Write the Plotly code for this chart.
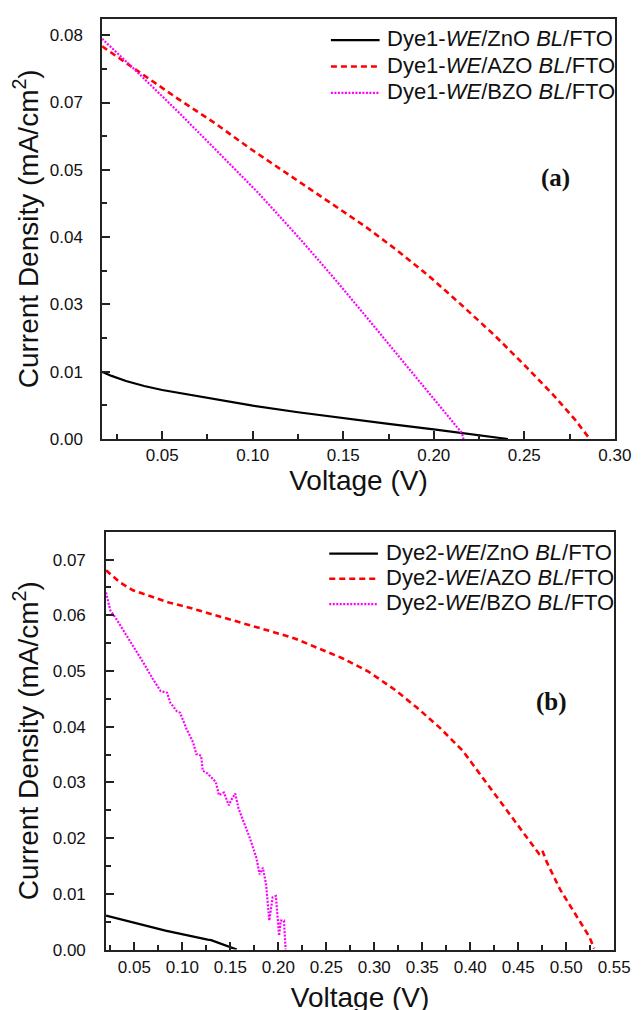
import plotly.graph_objects as go

# ---------------- Data: panel (a) Dye1 ----------------
v_a_zno = [0.0168, 0.022, 0.030, 0.040, 0.050, 0.075, 0.100, 0.125, 0.150, 0.175, 0.200, 0.225, 0.241]
j_a_zno = [0.0133, 0.0125, 0.0115, 0.0105, 0.0097, 0.0081, 0.0066, 0.0053, 0.0041, 0.0030, 0.0019, 0.0007, 0.0]

v_a_azo = [0.0168, 0.0374, 0.0579, 0.0794, 0.0991, 0.1206, 0.1421, 0.1618, 0.1797, 0.1976,
           0.2155, 0.2334, 0.2513, 0.2656, 0.2781, 0.2862]
j_a_azo = [0.0778, 0.0726, 0.0676, 0.0625, 0.0574, 0.0522, 0.0469, 0.0422, 0.0374, 0.0322,
           0.0265, 0.0206, 0.0142, 0.0089, 0.0038, 0.0]

v_a_bzo = [0.0168, 0.0374, 0.0600, 0.0848, 0.1027, 0.1255, 0.1439, 0.1618, 0.1797, 0.1976,
           0.2155, 0.2164]
j_a_bzo = [0.0793, 0.0723, 0.0644, 0.0555, 0.0489, 0.0399, 0.0323, 0.0246, 0.0168, 0.0091,
           0.0012, 0.0]

# ---------------- Data: panel (b) Dye2 ----------------
v_b_zno = [0.0205, 0.0485, 0.0824, 0.1264, 0.1300, 0.1568]
j_b_zno = [0.0061, 0.0049, 0.0034, 0.0018, 0.0017, 0.0]

v_b_azo = [0.0205, 0.035, 0.0485, 0.0655, 0.0858, 0.1027, 0.1230, 0.1433, 0.1602, 0.1805,
           0.2008, 0.2178, 0.2431, 0.2668, 0.2939, 0.3210, 0.3447, 0.3684, 0.3921, 0.4124,
           0.4327, 0.4530, 0.4716, 0.4750, 0.4800, 0.4936, 0.5105, 0.5241, 0.5291]
j_b_azo = [0.0681, 0.0659, 0.0645, 0.0635, 0.0623, 0.0616, 0.0606, 0.0596, 0.0588, 0.0578,
           0.0567, 0.0558, 0.0540, 0.0523, 0.0499, 0.0467, 0.0434, 0.0398, 0.0357, 0.0310,
           0.0262, 0.0215, 0.0172, 0.0178, 0.0156, 0.0108, 0.0061, 0.0023, 0.0002]

v_b_bzo = [0.0205, 0.0249, 0.0299, 0.0384, 0.0485, 0.0587, 0.0688, 0.0774, 0.0841, 0.0875,
           0.0942, 0.0977, 0.1044, 0.1112, 0.1145, 0.1196, 0.1213, 0.1264, 0.1348, 0.1382,
           0.1433, 0.1484, 0.1518, 0.1551, 0.1586, 0.1636, 0.1704, 0.1771, 0.1805, 0.1839,
           0.1873, 0.1906, 0.1941, 0.1975, 0.2008, 0.2025, 0.2059, 0.2076]
j_b_bzo = [0.0641, 0.0609, 0.0597, 0.0573, 0.0547, 0.0517, 0.0487, 0.0464, 0.0461, 0.0443,
           0.0428, 0.0425, 0.0396, 0.0372, 0.0351, 0.0348, 0.0321, 0.0316, 0.0301, 0.0277,
           0.0282, 0.0259, 0.0271, 0.0280, 0.0253, 0.0230, 0.0200, 0.0165, 0.0135, 0.0147,
           0.0117, 0.0052, 0.0094, 0.0096, 0.0025, 0.0052, 0.0052, 0.0]

# ---------------- Labels / ticks ----------------
names_a = ["Dye1-<i>WE</i>/ZnO <i>BL</i>/FTO", "Dye1-<i>WE</i>/AZO <i>BL</i>/FTO", "Dye1-<i>WE</i>/BZO <i>BL</i>/FTO"]
names_b = ["Dye2-<i>WE</i>/ZnO <i>BL</i>/FTO", "Dye2-<i>WE</i>/AZO <i>BL</i>/FTO", "Dye2-<i>WE</i>/BZO <i>BL</i>/FTO"]
panel_labels = ["(a)", "(b)"]

x_tick_labels_a = ["0.05", "0.10", "0.15", "0.20", "0.25", "0.30"]
y_tick_values_a = [0.0, 0.08 / 6, 0.16 / 6, 0.24 / 6, 0.32 / 6, 0.40 / 6, 0.08]
y_tick_labels_a = ["0.00", "0.01", "0.03", "0.04", "0.05", "0.07", "0.08"]

x_tick_labels_b = ["0.05", "0.10", "0.15", "0.20", "0.25", "0.30", "0.35", "0.40", "0.45", "0.50", "0.55"]
y_tick_labels_b = ["0.00", "0.01", "0.02", "0.03", "0.04", "0.05", "0.06", "0.07"]

x_title = "Voltage (V)"
y_title = "Current Density (mA/cm<sup>2</sup>)"

# ---------------- Figure ----------------
W, H = 642, 1010
FONT = "Liberation Sans, Arial, sans-serif"
SERIF = "Liberation Serif, Times New Roman, serif"
TXT = "#111111"
AX = "#222222"

styles = [dict(color="#000000", width=2.2),
          dict(color="#FF0000", width=2.6, dash="6px,4px"),
          dict(color="#FF00FF", width=2.2, dash="2px,1.5px")]


def px_x(p):
    return p / W


def px_y(p):
    return 1 - p / H


fig = go.Figure()
for v, j, nm, st in zip([v_a_zno, v_a_azo, v_a_bzo], [j_a_zno, j_a_azo, j_a_bzo], names_a, styles):
    fig.add_trace(go.Scatter(x=v, y=j, mode="lines", name=nm, line=st,
                             xaxis="x", yaxis="y", showlegend=False))
for v, j, nm, st in zip([v_b_zno, v_b_azo, v_b_bzo], [j_b_zno, j_b_azo, j_b_bzo], names_b, styles):
    fig.add_trace(go.Scatter(x=v, y=j, mode="lines", name=nm, line=st,
                             xaxis="x2", yaxis="y2", showlegend=False))

axis_common = dict(
    showline=True, linecolor=AX, linewidth=1.6, mirror=True,
    ticks="inside", ticklen=8, tickwidth=1.5, tickcolor=AX,
    showgrid=False, zeroline=False,
    tickfont=dict(family=FONT, size=17, color=TXT),
)
minor_common = dict(ticks="inside", ticklen=5, tickwidth=1.5, tickcolor=AX, showgrid=False)

x_vals_a = [float(t) for t in x_tick_labels_a]
x_vals_b = [float(t) for t in x_tick_labels_b]
y_vals_b = [float(t) for t in y_tick_labels_b]

xtitle_font = dict(family=FONT, size=28, color=TXT)
ytitle_font = dict(family=FONT, size=28, color=TXT)

# legend drawn as line samples + text (positions in pixels)
legend_rows = [
    dict(names=names_a, x0=331.7, x1=381.7, xt=387.3, ys=[31.0, 57.6, 84.3]),
    dict(names=names_b, x0=330.0, x1=380.0, xt=386.0, ys=[549.5, 575.0, 600.5]),
]
shapes = []
annotations = []
for leg in legend_rows:
    for nm, st, yy in zip(leg["names"], styles, leg["ys"]):
        shapes.append(dict(type="line", xref="paper", yref="paper",
                           x0=px_x(leg["x0"]), x1=px_x(leg["x1"]), y0=px_y(yy + 1.5), y1=px_y(yy + 1.5),
                           line=dict(color=st["color"], width=st["width"],
                                     dash=st.get("dash", "solid"))))
        annotations.append(dict(text=nm, x=px_x(leg["xt"]), y=px_y(yy), xref="paper", yref="paper",
                                xanchor="left", yanchor="middle", showarrow=False,
                                font=dict(family=FONT, size=22, color=TXT)))

for lab, (cx, cy) in zip(panel_labels, [(562, 172), (558, 701)]):
    annotations.append(dict(text="<b>" + lab + "</b>", x=px_x(cx), y=px_y(cy), xref="paper", yref="paper",
                            xanchor="center", yanchor="middle", showarrow=False,
                            font=dict(family=SERIF, size=25, color=TXT)))

fig.update_layout(
    width=W, height=H,
    margin=dict(l=0, r=0, t=0, b=0),
    paper_bgcolor="white", plot_bgcolor="white",
    font=dict(family=FONT, color=TXT),
    showlegend=False,
    xaxis=dict(domain=[px_x(96.7), px_x(623.3)], range=[0.0168, 0.30], anchor="y",
               tickmode="array", tickvals=x_vals_a, ticktext=x_tick_labels_a,
               minor=dict(tickmode="array", tickvals=[0.025, 0.075, 0.125, 0.175, 0.225, 0.275], **minor_common),
               ticklabelstandoff=0,
               title=dict(text=x_title, standoff=4, font=xtitle_font), **axis_common),
    yaxis=dict(domain=[px_y(435.3), px_y(10.7)], range=[0, 0.0833], anchor="x",
               tickmode="array", tickvals=y_tick_values_a, ticktext=y_tick_labels_a,
               minor=dict(tickmode="array", tickvals=[0.08 / 12 * k for k in (1, 3, 5, 7, 9, 11)], **minor_common),
               ticklabelstandoff=14,
               title=dict(text=y_title, standoff=6, font=ytitle_font), **axis_common),
    xaxis2=dict(domain=[px_x(100.7), px_x(622.7)], range=[0.0205, 0.55], anchor="y2",
                tickmode="array", tickvals=x_vals_b, ticktext=x_tick_labels_b,
                minor=dict(tickmode="array", tickvals=[0.025 + 0.05 * k for k in range(11)], **minor_common),
                ticklabelstandoff=1,
                title=dict(text=x_title, standoff=12, font=xtitle_font), **axis_common),
    yaxis2=dict(domain=[px_y(951), px_y(529)], range=[0, 0.075], anchor="x2",
                tickmode="array", tickvals=y_vals_b, ticktext=y_tick_labels_b,
                minor=dict(tickmode="array", tickvals=[0.005 + 0.01 * k for k in range(7)], **minor_common),
                ticklabelstandoff=15,
                title=dict(text=y_title, standoff=6, font=ytitle_font), **axis_common),
    shapes=shapes,
    annotations=annotations,
)

fig.write_html("out.html")
